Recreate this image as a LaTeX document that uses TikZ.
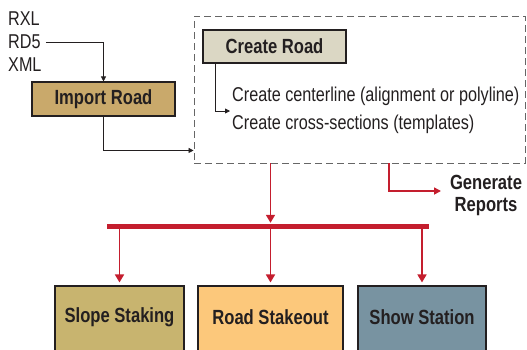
\documentclass[tikz,border=0pt]{standalone}
\usepackage{fontspec}
\setmainfont[FakeStretch=0.81]{Liberation Sans}
\usetikzlibrary{arrows.meta}
\definecolor{ink}{HTML}{231F20}
\definecolor{flowred}{HTML}{C41E2E}
\definecolor{importfill}{HTML}{C9A96B}
\definecolor{createfill}{HTML}{DBD7C4}
\definecolor{slopefill}{HTML}{C8B46F}
\definecolor{stakefill}{HTML}{FCC87B}
\definecolor{stationfill}{HTML}{7893A1}
\definecolor{framegray}{HTML}{666666}
\tikzset{
  every node/.style={text=ink, font=\fontsize{20}{22}\selectfont, inner sep=0pt},
  boldtext/.style={font=\fontsize{20.5}{22}\selectfont\bfseries},
  procbox/.style={draw=ink, line width=1.1pt, boldtext, minimum height=34pt},
  blackflow/.style={draw=ink, line width=0.8pt, -{Triangle[length=5pt,width=5pt]}},
  redflow/.style={draw=flowred, line width=1.6pt, -{Triangle[length=8pt,width=9pt]}},
  framebox/.style={draw=framegray, line width=0.9pt, dash pattern=on 7pt off 4pt}
}
\begin{document}
\begin{tikzpicture}[x=1pt, y=-1pt]
\useasboundingbox (0,0) rectangle (527,349);
\clip (0,0) rectangle (527,349);

% input formats
\node[anchor=west] (rxl) at (8,19) {RXL};
\node[anchor=west] (rd5) at (8,42) {RD5};
\node[anchor=west] (xml) at (8,65) {XML};

% import step
\node[procbox, fill=importfill, minimum width=143pt] (import) at (103.5,99) {Import Road};

% dashed group holding the road creation steps
\node[framebox, minimum width=331pt, minimum height=147pt] (frame) at (359.5,89.5) {};
\node[procbox, fill=createfill, minimum width=143pt, minimum height=33pt] (create) at (274.5,46.5) {Create Road};
\node[anchor=west] (centerline) at (232,96) {Create centerline (alignment or polyline)};
\node[anchor=west] (sections) at (232,124) {Create cross-sections (templates)};
\coordinate (stepin) at (230,111);

% report output
\node[align=center, boldtext] (reports) at (486,195) {Generate\\Reports};
\coordinate (gtap) at (389,163);
\coordinate (gend) at (441,191);

% distribution bar and field tasks
\node[fill=flowred, minimum width=322pt, minimum height=5pt] (bar) at (268,226.5) {};
\node[procbox, fill=slopefill, minimum width=129pt, minimum height=80pt] (slope) at (119.5,326) {};
\node[procbox, fill=stakefill, minimum width=145pt, minimum height=80pt] (stake) at (270.5,326) {};
\node[procbox, fill=stationfill, minimum width=128pt, minimum height=80pt] (station) at (422,326) {};
\node[boldtext] (slopetxt) at (119.5,317) {Slope Staking};
\node[boldtext] (staketxt) at (270.5,317) {Road Stakeout};
\node[boldtext] (stationtxt) at (422,317) {Show Station};

% black connectors
\draw[blackflow] ([xshift=5pt]rd5.east) -| (import.north);
\draw[blackflow] (import.south) |- ([yshift=13pt]frame.south west);
\draw[blackflow] ([xshift=-59.5pt]create.south) |- (stepin);

% red connectors
\draw[redflow] (frame.south -| stake.north) -- ([yshift=1pt]bar.north -| stake.north);
\draw[redflow, -{Triangle[length=7pt,width=7pt]}] (gtap) |- (gend);
\foreach \b in {slope, stake, station}
  \draw[redflow, shorten >=3pt] (bar.south -| \b.north) -- (\b.north);
\end{tikzpicture}
\end{document}
